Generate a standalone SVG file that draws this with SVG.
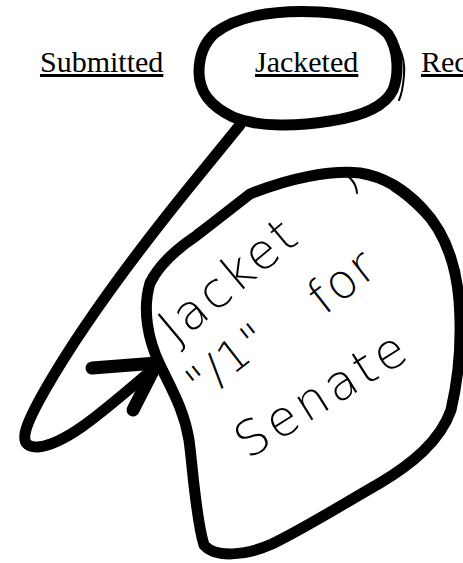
<svg xmlns="http://www.w3.org/2000/svg" width="463" height="563" viewBox="0 0 463 563">
<style>
.hdr{font-family:"Liberation Serif","Times New Roman",serif;font-size:30px;fill:#000;text-decoration:underline}
.ink{fill:none;stroke:#000;stroke-linecap:round;stroke-linejoin:round}
.thick{stroke-width:11}
.thin{stroke-width:2}
.hand{font-family:"DejaVu Sans","Noto Sans",sans-serif;font-weight:200;fill:#000}
</style>
<rect width="463" height="563" fill="#fff"/>
<g id="submitted"><text class="hdr" x="40" y="72">Submitted</text></g>
<g id="jacketed">
<text class="hdr" x="255" y="72">Jacketed</text>
<path class="ink thick" d="M215,33 C240,14 280,10 320,12 C350,14 375,19 388,34 C399,50 399,75 393,90 C385,106 365,116 330,121 C300,126 260,128 233,117 C210,106 199,92 199,72 C199,55 205,42 215,33 Z"/>
<path class="ink thin" d="M376,22 C396,35 406,55 404,75 C403,88 401,96 399,100"/>
</g>
<g id="rec"><text class="hdr" x="421" y="72">Rec</text></g>
<g id="connectors">
<path class="ink thick" d="M240,125 L205,168 C150,235 85,320 45,390 C25,425 15,448 38,447 C70,444 115,400 157,366"/>
<path class="ink" stroke-width="13" d="M92,368 L157,363 L133,410"/>
</g>
<g id="note">
<path class="ink thick" d="M150,283 C160,263 178,248 196,236 L250,194 C290,178 330,170 360,173 C385,177 405,190 422,208 C445,232 456,265 459,300 C462,340 458,380 451,410 C440,442 410,465 380,483 C345,503 305,528 272,544 C245,556 215,558 204,545 C196,520 193,470 189,440 C184,410 172,390 160,365 C148,340 142,310 150,283 Z"/>
<path class="ink thin" d="M195,231 L248,193"/>
<path class="ink thin" d="M340,172 C350,176 356,182 357,193"/>
<path class="ink thin" d="M392,190 C415,205 432,225 446,245"/>
<text class="hand" font-size="49" letter-spacing="3" transform="translate(176,346) rotate(-40)">Jacket</text>
<text class="hand" font-size="44" letter-spacing="2" transform="translate(201,400) rotate(-38)">"/1"</text>
<text class="hand" font-size="48" letter-spacing="2" transform="translate(324,316) rotate(-38)">for</text>
<text class="hand" font-size="49" letter-spacing="4" transform="translate(248,460) rotate(-32)">Senate</text>
</g>
</svg>
